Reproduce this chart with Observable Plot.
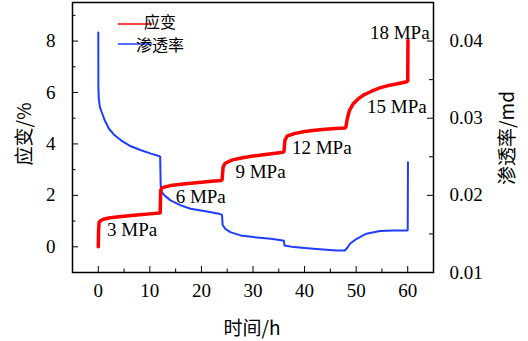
<!DOCTYPE html>
<html><head><meta charset="utf-8">
<script src="https://cdn.jsdelivr.net/npm/d3@7"></script>
<script src="https://cdn.jsdelivr.net/npm/@observablehq/plot@0.6"></script>
<style>body{margin:0;background:#fff}</style>
</head><body><div id="chart"></div>
<script>
// ---- data ----
const strainT = [0,0.05,0.15,0.5,1,2,4,6,8,10,11.8,12.0,12.1,12.4,14,16,18,20,22,23.8,24.0,24.2,24.6,26,28,30,32,34,35.8,36.0,36.2,36.6,38,40,42,44,46,47.8,48.0,48.3,48.7,49.4,50.4,51.4,53,54.6,56,57.8,59.8,60.0,60.05];
const strainV = [0,0.6,0.95,1.02,1.07,1.12,1.17,1.21,1.25,1.28,1.31,1.32,2.2,2.3,2.38,2.43,2.47,2.51,2.55,2.58,2.6,3.1,3.25,3.38,3.46,3.53,3.58,3.63,3.68,3.7,4.15,4.3,4.4,4.48,4.53,4.57,4.6,4.62,4.65,5.0,5.3,5.55,5.75,5.9,6.05,6.18,6.26,6.33,6.42,6.45,8.02];
const permT = [0,0.02,0.1,0.3,0.55,1.2,2.1,3,4.4,6.3,8.3,10.2,11.9,12.0,12.1,12.3,13,14,16,17.9,20.5,23.4,23.9,24.0,24.1,24.6,25.6,27.6,30.1,33.4,35.8,36.0,36.1,37.9,41.7,46.2,47.8,48.3,48.8,50.1,52,54.6,57.2,59.9,60.0,60.05];
const permK = [0.0411,0.034,0.0325,0.0315,0.0310,0.0298,0.0286,0.0279,0.02714,0.02636,0.02584,0.02541,0.02506,0.0250,0.0212,0.0204,0.0199,0.01935,0.0187,0.01827,0.01797,0.01762,0.0175,0.0174,0.0162,0.01567,0.01523,0.01481,0.01459,0.01437,0.01416,0.0141,0.0135,0.01329,0.01307,0.01286,0.01286,0.0132,0.01373,0.01437,0.01503,0.01537,0.01545,0.01545,0.0155,0.0243];

const xTicks = [0,10,20,30,40,50,60];
const xMinor = [5,15,25,35,45,55];
const leftTicks = [0,2,4,6,8];
const leftMinor = [1,3,5,7,9];
const rightTicks = [0.01,0.02,0.03,0.04];
const rightMinor = [0.015,0.025,0.035];

const stageLabels = ["3 MPa","6 MPa","9 MPa","12 MPa","15 MPa","18 MPa"];
const stageT = [1.7,15.0,26.6,37.55,63.67,64.25];
const stageV = [0.66,1.95,2.90,3.84,5.43,8.33];
const stageAnchor = ["start","start","start","start","end","end"];

const seriesNames = ["应变","渗透率"];
const xTitle = "时间/h";
const yLeftTitle = "应变/%";
const yRightTitle = "渗透率/md";

// ---- chart ----
const W = 528, H = 341;
const mL = 72, mR = 95, mT = 2, mB = 69;
const xDom = [-5, 65], yDom = [-1, 9.5];
const toLeft = k => 8 + (k - 0.04) * 300;
const fromLeft = v => (v - 8) / 300 + 0.04;
const RED = "#ff0000", BLUE = "#1f3cff";

const pxX = (xDom[1]-xDom[0]) / (W - mL - mR);
const pxY = (yDom[1]-yDom[0]) / (H - mT - mB);

const strain = strainT.map((t,i) => ({t, v: strainV[i]}));
const perm = permT.map((t,i) => ({t, v: toLeft(permK[i])}));
const stages = stageLabels.map((s,i) => ({s, t: stageT[i], v: stageV[i], a: stageAnchor[i]}));

const serif = "'Liberation Serif','Times New Roman',serif";
const cjk = "'Noto Sans CJK SC','Noto Sans',sans-serif";

const plot = Plot.plot({
  width: W, height: H,
  marginLeft: mL, marginRight: mR, marginTop: mT, marginBottom: mB,
  x: {domain: xDom},
  y: {domain: yDom},
  style: {fontSize: "19px", color: "#000", background: "#fff"},
  marks: [
    Plot.line(perm, {x: "t", y: "v", stroke: BLUE, strokeWidth: 2}),
    Plot.line(strain, {x: "t", y: "v", stroke: RED, strokeWidth: 3.5}),
    Plot.text(stages.filter(d => d.a === "start"), {x: "t", y: "v", text: "s", textAnchor: "start", fontSize: 19}),
    Plot.text(stages.filter(d => d.a === "end"), {x: "t", y: "v", text: "s", textAnchor: "end", fontSize: 19}),
    // inward ticks
    Plot.ruleY(leftTicks, {x1: xDom[0], x2: xDom[0] + 6*pxX, stroke: "#000"}),
    Plot.ruleY(leftMinor, {x1: xDom[0], x2: xDom[0] + 3.5*pxX, stroke: "#000"}),
    Plot.ruleY(rightTicks.map(toLeft), {x1: xDom[1] - 6*pxX, x2: xDom[1], stroke: "#000"}),
    Plot.ruleY(rightMinor.map(toLeft), {x1: xDom[1] - 4*pxX, x2: xDom[1], stroke: "#000"}),
    Plot.ruleX(xTicks, {y1: yDom[0], y2: yDom[0] + 6*pxY, stroke: "#000"}),
    Plot.ruleX(xMinor, {y1: yDom[0], y2: yDom[0] + 3.5*pxY, stroke: "#000"}),
    Plot.frame({stroke: "#000", strokeWidth: 1.5}),
    Plot.axisX(xTicks, {tickSize: 0, tickPadding: 11, label: null}),
    Plot.axisY(leftTicks, {anchor: "left", tickSize: 0, tickPadding: 17, label: null}),
    Plot.axisY(rightTicks.map(toLeft), {anchor: "right", tickSize: 0, tickPadding: 16, label: null,
      tickFormat: v => fromLeft(v).toFixed(2)})
  ]
});
document.getElementById("chart").appendChild(plot);

const svg = d3.select(plot);
// serif for all numeric / Latin text drawn by Plot
svg.selectAll("text").style("font-family", serif).attr("font-family", serif);

// axis titles
svg.append("text").attr("x", 252).attr("y", 328).attr("dy", "0.35em")
  .attr("text-anchor", "middle").style("font-family", cjk).attr("font-size", 19).attr("fill", "#000").text(xTitle);
svg.append("text").attr("transform", "translate(24,134) rotate(-90)").attr("dy", "0.35em")
  .attr("text-anchor", "middle").style("font-family", cjk).attr("font-size", 19).attr("fill", "#000").text(yLeftTitle);
svg.append("text").attr("transform", "translate(507,138) rotate(-90)").attr("dy", "0.35em")
  .attr("text-anchor", "middle").style("font-family", cjk).attr("font-size", 19).attr("fill", "#000").text(yRightTitle);
// legend
[[RED, 24, 22.5], [BLUE, 44, 45.5]].forEach(([c, y, ty], i) => {
  svg.append("line").attr("x1", 118).attr("x2", 152).attr("y1", y).attr("y2", y)
    .attr("stroke", c).attr("stroke-width", 1.5);
  svg.append("text").attr("x", 160).attr("y", ty).attr("dy", "0.35em")
    .style("font-family", cjk).attr("font-size", 16).attr("fill", "#000").text(seriesNames[i]);
});
</script>
</body></html>
